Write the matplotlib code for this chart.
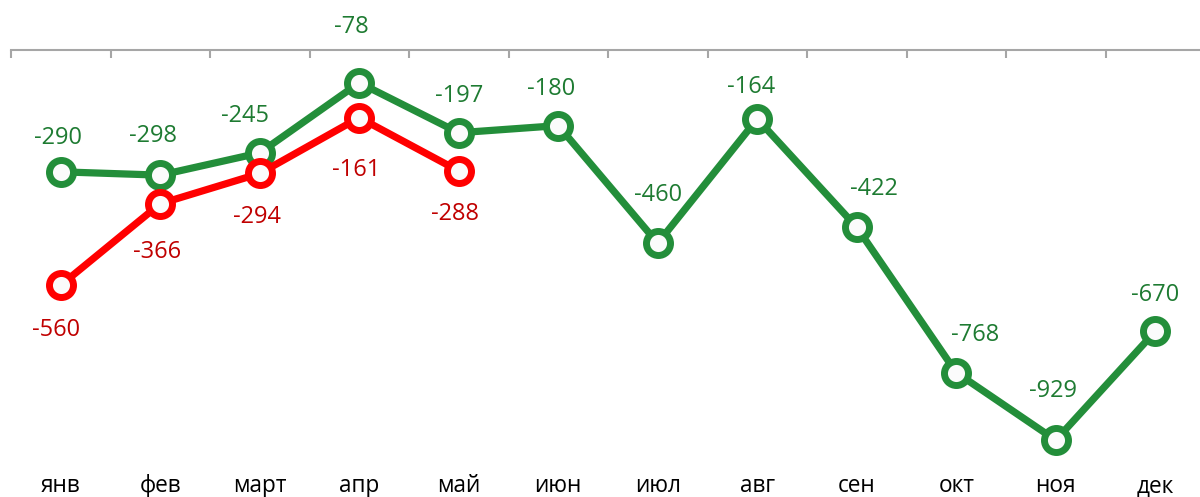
import matplotlib
matplotlib.use("Agg")
import matplotlib.pyplot as plt
from matplotlib.ticker import FixedLocator

months = ["янв", "фев", "март", "апр", "май", "июн", "июл", "авг", "сен", "окт", "ноя", "дек"]
green_vals = [-290, -298, -245, -78, -197, -180, -460, -164, -422, -768, -929, -670]
red_vals = [-560, -366, -294, -161, -288]

# label placement (pixels relative to the marker): horizontal shift, distance above/below
green_lbl_dx = [-3, -7, -15, -8, 0, -7, 0, -6, 17, 19, -3, 0]
green_lbl_dy = [36, 42, 39, 58, 39, 39, 51, 34, 41, 40, 52, 39]
red_lbl_dx = [-5, -3, -3, -3, -4]
red_lbl_dy = [42, 46, 41, 50, 41]

GREEN = "#238E3A"
GREEN_TXT = "#1E7B32"
RED = "#FF0000"
RED_TXT = "#C00000"
AXIS = "#A6A6A6"

plt.rcParams['font.family'] = ['Open Sans', 'DejaVu Sans']

W, H = 1200, 497
PX = 0.72  # points per pixel at dpi 100
fig = plt.figure(figsize=(W / 100, H / 100), dpi=100)
left, right, top, bottom = 11, 1205, 50, 470
ax = fig.add_axes([left / W, 1 - bottom / H, (right - left) / W, (bottom - top) / H])

x = list(range(len(months)))
xr = list(range(len(red_vals)))

marker_kw = dict(marker="o", markersize=17.3, markeredgewidth=5.0, markerfacecolor="#FBFBFB")
ax.plot(x, green_vals, color=GREEN, lw=5.2, markeredgecolor=GREEN, zorder=3, **marker_kw)
ax.plot(xr, red_vals, color=RED, lw=5.2, markeredgecolor=RED, zorder=4, **marker_kw)

# data labels
for i, v in enumerate(green_vals):
    ax.annotate(str(v), (i, v),
                xytext=(green_lbl_dx[i] * PX, (green_lbl_dy[i] - 2.5) * PX),
                textcoords="offset points", ha="center", va="center",
                fontsize=17, color=GREEN_TXT, annotation_clip=False)
for i, v in enumerate(red_vals):
    ax.annotate(str(v), (i, v),
                xytext=(red_lbl_dx[i] * PX, -(red_lbl_dy[i] + 2.5) * PX),
                textcoords="offset points", ha="center", va="center",
                fontsize=17, color=RED_TXT, annotation_clip=False)

ax.set_xlim(-0.5, len(months) - 0.5)
ax.set_ylim(-1000, 0)

for s in ["left", "right", "bottom"]:
    ax.spines[s].set_visible(False)
ax.spines["top"].set_color(AXIS)
ax.spines["top"].set_linewidth(1.5)

ax.set_yticks([])
ax.set_xticks(x)
ax.set_xticklabels(months, fontsize=16.3, color="#000000")
ax.tick_params(axis="x", which="major", length=0, pad=3, bottom=True, top=False,
               labelbottom=True, labeltop=False)
ax.xaxis.set_minor_locator(FixedLocator([i - 0.5 for i in range(len(months) + 1)]))
ax.tick_params(axis="x", which="minor", top=True, bottom=False, direction="in",
               length=6, width=1.5, color=AXIS)

fig.savefig("out.png", dpi=100, facecolor="white")
